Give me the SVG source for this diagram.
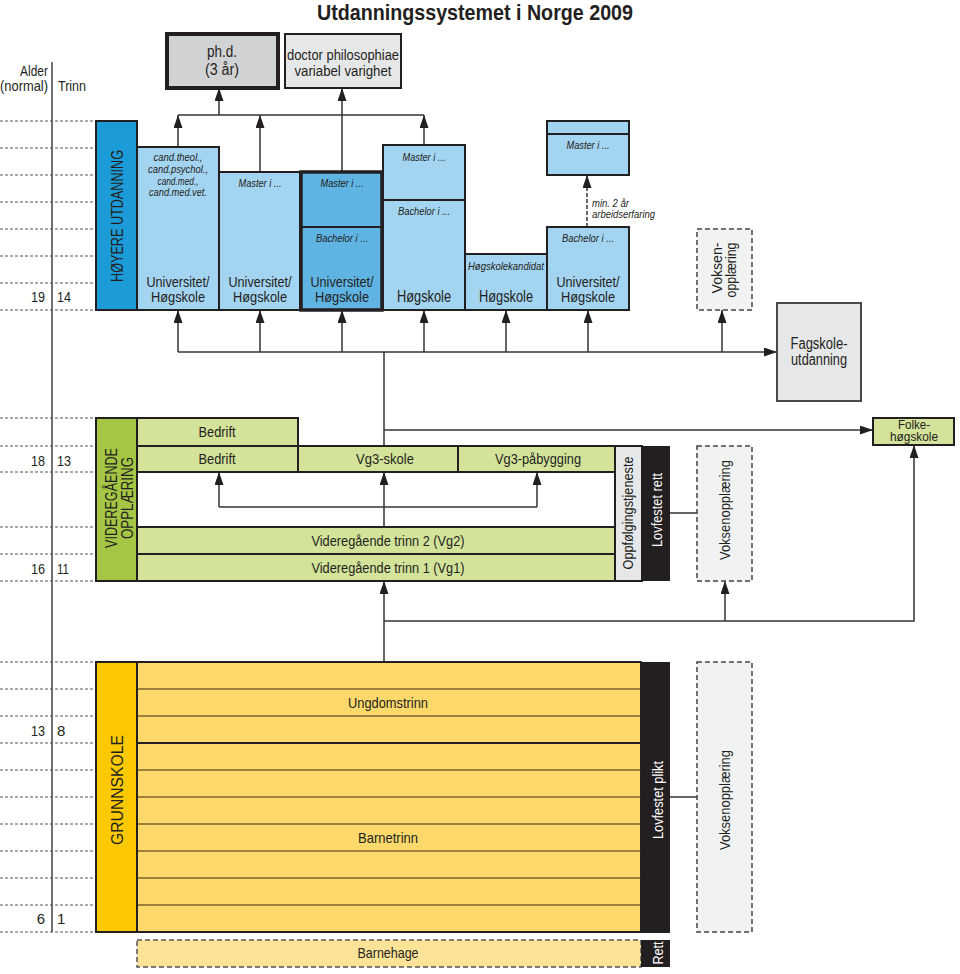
<svg xmlns="http://www.w3.org/2000/svg" width="960" height="974" viewBox="0 0 960 974">
<defs>
<style>
text{font-family:"Liberation Sans",Arial,sans-serif;fill:#231f20}
.t16{font-size:16px}
.t15{font-size:15px}
.t14{font-size:14px}
.it{font-size:11px;font-style:italic}
.m{text-anchor:middle}
.e{text-anchor:end}
.w{fill:#ffffff}
.box{stroke:#231f20;stroke-width:2}
.blue{fill:#a3d4f1}
.green{fill:#d3e39a}
.yel{fill:#fdd96b}
.grey{fill:#e6e7e8}
.dash{fill:#f1f2f2;stroke:#444;stroke-width:1.5;stroke-dasharray:5 3}
.dot{stroke:#555;stroke-width:1;stroke-dasharray:3 2}
.row{stroke:#3a2a10;stroke-width:1.2}
.c{fill:none;stroke:#333;stroke-width:1.5}
.a{marker-end:url(#ah)}
</style>
<marker id="ah" markerUnits="userSpaceOnUse" markerWidth="13" markerHeight="9" refX="13" refY="4.5" orient="auto">
<path d="M0,0 L13,4.5 L0,9 z" fill="#231f20"/>
</marker>
</defs>
<rect width="960" height="974" fill="#ffffff"/>

<g id="title">
<text x="475" y="20" class="m" style="font-size:22px;font-weight:bold" textLength="316" lengthAdjust="spacingAndGlyphs">Utdanningssystemet i Norge 2009</text>
</g>

<g id="axis">
<line x1="52" y1="62" x2="52" y2="932" stroke="#444" stroke-width="1.5"/>
<text x="48" y="76" class="t15 e" textLength="28" lengthAdjust="spacingAndGlyphs">Alder</text>
<text x="48" y="91" class="t15 e" textLength="48" lengthAdjust="spacingAndGlyphs">(normal)</text>
<text x="58" y="91" class="t15" textLength="28" lengthAdjust="spacingAndGlyphs">Trinn</text>
<g class="dot">
<line x1="0" y1="121" x2="96" y2="121"/><line x1="0" y1="148" x2="96" y2="148"/><line x1="0" y1="175" x2="96" y2="175"/><line x1="0" y1="202" x2="96" y2="202"/><line x1="0" y1="229" x2="96" y2="229"/><line x1="0" y1="256" x2="96" y2="256"/><line x1="0" y1="283" x2="96" y2="283"/><line x1="0" y1="310" x2="96" y2="310"/>
<line x1="0" y1="418" x2="96" y2="418"/><line x1="0" y1="446" x2="96" y2="446"/><line x1="0" y1="472" x2="96" y2="472"/><line x1="0" y1="527" x2="96" y2="527"/><line x1="0" y1="554" x2="96" y2="554"/><line x1="0" y1="581" x2="96" y2="581"/>
<line x1="0" y1="662" x2="96" y2="662"/><line x1="0" y1="689" x2="96" y2="689"/><line x1="0" y1="716" x2="96" y2="716"/><line x1="0" y1="743" x2="96" y2="743"/><line x1="0" y1="770" x2="96" y2="770"/><line x1="0" y1="797" x2="96" y2="797"/><line x1="0" y1="824" x2="96" y2="824"/><line x1="0" y1="851" x2="96" y2="851"/><line x1="0" y1="878" x2="96" y2="878"/><line x1="0" y1="905" x2="96" y2="905"/><line x1="0" y1="932" x2="96" y2="932"/>
</g>
<text x="45" y="302" class="t15 e" textLength="14" lengthAdjust="spacingAndGlyphs">19</text><text x="57" y="302" class="t15" textLength="14" lengthAdjust="spacingAndGlyphs">14</text>
<text x="45" y="466" class="t15 e" textLength="14" lengthAdjust="spacingAndGlyphs">18</text><text x="57" y="466" class="t15" textLength="14" lengthAdjust="spacingAndGlyphs">13</text>
<text x="45" y="574" class="t15 e" textLength="14" lengthAdjust="spacingAndGlyphs">16</text><text x="57" y="574" class="t15" textLength="12" lengthAdjust="spacingAndGlyphs">11</text>
<text x="45" y="736" class="t15 e" textLength="14" lengthAdjust="spacingAndGlyphs">13</text><text x="57" y="736" class="t15">8</text>
<text x="45" y="924" class="t15 e">6</text><text x="57" y="924" class="t15">1</text>
</g>

<g id="connectors">
<path class="c" d="M178,115 H424"/>
<path class="c a" d="M178,147 V115"/>
<path class="c a" d="M260,172 V115"/>
<path class="c a" d="M424,145 V115"/>
<path class="c a" d="M219,115 V88"/>
<path class="c a" d="M342,172 V88"/>
<path class="c a" d="M587,227 V175" style="stroke-dasharray:4 2"/>
<path class="c a" d="M178,352 H777"/>
<path class="c a" d="M178,352 V310"/>
<path class="c a" d="M260,352 V310"/>
<path class="c a" d="M342,352 V310"/>
<path class="c a" d="M424,352 V310"/>
<path class="c a" d="M506,352 V310"/>
<path class="c a" d="M588,352 V310"/>
<path class="c a" d="M722,352 V310"/>
<path class="c" d="M384,352 V446"/>
<path class="c a" d="M384,430 H873"/>
<path class="c a" d="M384,527 V472"/>
<path class="c" d="M219,507 H537"/>
<path class="c a" d="M219,507 V472"/>
<path class="c a" d="M537,507 V472"/>
<path class="c a" d="M384,662 V581"/>
<path class="c a" d="M384,621 H914 V445"/>
<path class="c a" d="M725,621 V581"/>
<path class="c" d="M670,513 H697"/>
<path class="c" d="M670,797 H697"/>
</g>

<g id="phd">
<rect x="167" y="34" width="111" height="54" fill="#d1d2d3" stroke="#231f20" stroke-width="4"/>
<text x="222" y="57" class="t16 m" textLength="30" lengthAdjust="spacingAndGlyphs">ph.d.</text>
<text x="222" y="75" class="t16 m" textLength="34" lengthAdjust="spacingAndGlyphs">(3 år)</text>
</g>
<g id="dr-philos">
<rect x="285" y="34" width="116" height="54" class="box grey"/>
<text x="343" y="60" class="t14 m" textLength="112" lengthAdjust="spacingAndGlyphs">doctor philosophiae</text>
<text x="343" y="76" class="t14 m" textLength="97" lengthAdjust="spacingAndGlyphs">variabel varighet</text>
</g>

<g id="hoyere">
<rect x="96" y="121" width="41" height="189" fill="#1b9bd7" class="box"/>
<text transform="translate(123,216) rotate(-90)" class="t16 m" textLength="132" lengthAdjust="spacingAndGlyphs">HØYERE UTDANNING</text>
</g>
<g id="col1">
<rect x="137" y="147" width="82" height="163" class="box blue"/>
<text x="178" y="161" class="it m" textLength="49" lengthAdjust="spacingAndGlyphs">cand.theol.,</text>
<text x="178" y="173" class="it m" textLength="60" lengthAdjust="spacingAndGlyphs">cand.psychol.,</text>
<text x="178" y="185" class="it m" textLength="41" lengthAdjust="spacingAndGlyphs">cand.med.,</text>
<text x="178" y="196" class="it m" textLength="58" lengthAdjust="spacingAndGlyphs">cand.med.vet.</text>
<text x="178" y="287" class="t15 m" textLength="63" lengthAdjust="spacingAndGlyphs">Universitet/</text>
<text x="178" y="302" class="t15 m" textLength="54" lengthAdjust="spacingAndGlyphs">Høgskole</text>
</g>
<g id="col2">
<rect x="219" y="172" width="81" height="138" class="box blue"/>
<text x="260" y="187" class="it m" textLength="43" lengthAdjust="spacingAndGlyphs">Master i ...</text>
<text x="260" y="287" class="t15 m" textLength="63" lengthAdjust="spacingAndGlyphs">Universitet/</text>
<text x="260" y="302" class="t15 m" textLength="54" lengthAdjust="spacingAndGlyphs">Høgskole</text>
</g>
<g id="col3">
<rect x="301" y="172" width="81" height="138" fill="#5fb4e4" stroke="#231f20" stroke-width="3.5"/>
<line x1="301" y1="227" x2="382" y2="227" stroke="#231f20" stroke-width="2"/>
<text x="342" y="187" class="it m" textLength="43" lengthAdjust="spacingAndGlyphs">Master i ...</text>
<text x="342" y="242" class="it m" textLength="52" lengthAdjust="spacingAndGlyphs">Bachelor i ...</text>
<text x="342" y="287" class="t15 m" textLength="63" lengthAdjust="spacingAndGlyphs">Universitet/</text>
<text x="342" y="302" class="t15 m" textLength="54" lengthAdjust="spacingAndGlyphs">Høgskole</text>
</g>
<g id="col4">
<rect x="383" y="145" width="82" height="165" class="box blue"/>
<line x1="383" y1="200" x2="465" y2="200" stroke="#231f20" stroke-width="2"/>
<text x="424" y="161" class="it m" textLength="43" lengthAdjust="spacingAndGlyphs">Master i ...</text>
<text x="424" y="215" class="it m" textLength="52" lengthAdjust="spacingAndGlyphs">Bachelor i ...</text>
<text x="424" y="302" class="t16 m" textLength="54" lengthAdjust="spacingAndGlyphs">Høgskole</text>
</g>
<g id="col5">
<rect x="465" y="254" width="82" height="56" class="box blue"/>
<text x="506" y="270" class="it m" textLength="76" lengthAdjust="spacingAndGlyphs">Høgskolekandidat</text>
<text x="506" y="302" class="t16 m" textLength="54" lengthAdjust="spacingAndGlyphs">Høgskole</text>
</g>
<g id="col6">
<rect x="547" y="227" width="82" height="83" class="box blue"/>
<text x="588" y="242" class="it m" textLength="52" lengthAdjust="spacingAndGlyphs">Bachelor i ...</text>
<text x="588" y="287" class="t15 m" textLength="63" lengthAdjust="spacingAndGlyphs">Universitet/</text>
<text x="588" y="302" class="t15 m" textLength="54" lengthAdjust="spacingAndGlyphs">Høgskole</text>
</g>
<g id="master-erfaring">
<rect x="547" y="121" width="82" height="54" class="box blue"/>
<line x1="547" y1="134" x2="629" y2="134" stroke="#231f20" stroke-width="2"/>
<text x="588" y="149" class="it m" textLength="43" lengthAdjust="spacingAndGlyphs">Master i ...</text>
<text x="592" y="207" class="it" textLength="37" lengthAdjust="spacingAndGlyphs">min. 2 år</text>
<text x="592" y="218" class="it" textLength="63" lengthAdjust="spacingAndGlyphs">arbeidserfaring</text>
</g>
<g id="voksen-hoyere">
<rect x="697" y="229" width="55" height="81" class="dash"/>
<text transform="translate(722,268) rotate(-90)" class="t15 m" textLength="51" lengthAdjust="spacingAndGlyphs">Voksen-</text>
<text transform="translate(736,270) rotate(-90)" class="t15 m" textLength="55" lengthAdjust="spacingAndGlyphs">opplæring</text>
</g>
<g id="fagskole">
<rect x="777" y="303" width="84" height="98" fill="#e6e7e8" stroke="#4a4a4a" stroke-width="2"/>
<text x="819" y="349" class="t16 m" textLength="57" lengthAdjust="spacingAndGlyphs">Fagskole-</text>
<text x="819" y="365" class="t16 m" textLength="56" lengthAdjust="spacingAndGlyphs">utdanning</text>
</g>

<g id="vgo">
<rect x="96" y="418" width="41" height="163" fill="#a4c644" class="box"/>
<text transform="translate(117,498) rotate(-90)" class="t16 m" textLength="100" lengthAdjust="spacingAndGlyphs">VIDEREGÅENDE</text>
<text transform="translate(133,498) rotate(-90)" class="t16 m" textLength="82" lengthAdjust="spacingAndGlyphs">OPPLÆRING</text>
</g>
<g id="bedrift1">
<rect x="137" y="418" width="161" height="28" class="box green"/>
<text x="217" y="437" class="t15 m" textLength="37" lengthAdjust="spacingAndGlyphs">Bedrift</text>
</g>
<g id="bedrift2">
<rect x="137" y="446" width="161" height="26" class="box green"/>
<text x="217" y="464" class="t15 m" textLength="37" lengthAdjust="spacingAndGlyphs">Bedrift</text>
</g>
<g id="vg3-skole">
<rect x="298" y="446" width="160" height="26" class="box green"/>
<text x="385" y="464" class="t15 m" textLength="58" lengthAdjust="spacingAndGlyphs">Vg3-skole</text>
</g>
<g id="vg3-pabygging">
<rect x="458" y="446" width="157" height="26" class="box green"/>
<text x="538" y="464" class="t15 m" textLength="86" lengthAdjust="spacingAndGlyphs">Vg3-påbygging</text>
</g>
<g id="vg2">
<rect x="137" y="527" width="478" height="27" class="box green"/>
<text x="388" y="546" class="t15 m" textLength="153" lengthAdjust="spacingAndGlyphs">Videregående trinn 2 (Vg2)</text>
</g>
<g id="vg1">
<rect x="137" y="554" width="478" height="27" class="box green"/>
<text x="388" y="573" class="t15 m" textLength="153" lengthAdjust="spacingAndGlyphs">Videregående trinn 1 (Vg1)</text>
</g>
<g id="oppfolging">
<rect x="615" y="446" width="27" height="135" class="box grey"/>
<text transform="translate(633,513) rotate(-90)" class="t15 m" textLength="113" lengthAdjust="spacingAndGlyphs">Oppfølgingstjeneste</text>
</g>
<g id="lovfestet-rett">
<rect x="642" y="446" width="28" height="135" fill="#231f20"/>
<text transform="translate(662,510) rotate(-90)" class="t15 m w" textLength="74" lengthAdjust="spacingAndGlyphs">Lovfestet rett</text>
</g>
<g id="voksen-vgo">
<rect x="697" y="446" width="55" height="135" class="dash"/>
<text transform="translate(730,510) rotate(-90)" class="t15 m" textLength="100" lengthAdjust="spacingAndGlyphs">Voksenopplæring</text>
</g>
<g id="folkehogskole">
<rect x="873" y="418" width="81" height="27" fill="#d3e39a" class="box"/>
<text x="914" y="429" class="m" style="font-size:12px" textLength="32" lengthAdjust="spacingAndGlyphs">Folke-</text>
<text x="914" y="440.5" class="m" style="font-size:12px" textLength="48" lengthAdjust="spacingAndGlyphs">høgskole</text>
</g>

<g id="grunnskole">
<rect x="96" y="662" width="41" height="270" fill="#fcc800" class="box"/>
<text transform="translate(123,790) rotate(-90)" class="t16 m" textLength="110" lengthAdjust="spacingAndGlyphs">GRUNNSKOLE</text>
</g>
<g id="grunnskole-trinn">
<rect x="137" y="662" width="504" height="270" class="box yel"/>
<g class="row">
<line x1="137" y1="689" x2="641" y2="689"/><line x1="137" y1="716" x2="641" y2="716"/><line x1="137" y1="770" x2="641" y2="770"/><line x1="137" y1="797" x2="641" y2="797"/><line x1="137" y1="824" x2="641" y2="824"/><line x1="137" y1="851" x2="641" y2="851"/><line x1="137" y1="878" x2="641" y2="878"/><line x1="137" y1="905" x2="641" y2="905"/>
</g>
<line x1="137" y1="743" x2="641" y2="743" stroke="#231f20" stroke-width="2"/>
<text x="388" y="708" class="t15 m" textLength="80" lengthAdjust="spacingAndGlyphs">Ungdomstrinn</text>
<text x="388" y="843" class="t15 m" textLength="60" lengthAdjust="spacingAndGlyphs">Barnetrinn</text>
</g>
<g id="lovfestet-plikt">
<rect x="641" y="662" width="29" height="271" fill="#231f20"/>
<text transform="translate(663,800) rotate(-90)" class="t15 m w" textLength="78" lengthAdjust="spacingAndGlyphs">Lovfestet plikt</text>
</g>
<g id="voksen-grunn">
<rect x="697" y="662" width="55" height="270" class="dash"/>
<text transform="translate(730,800) rotate(-90)" class="t15 m" textLength="100" lengthAdjust="spacingAndGlyphs">Voksenopplæring</text>
</g>
<g id="barnehage">
<rect x="137" y="940" width="504" height="27" fill="#fde397" stroke="#555" stroke-width="1.5" stroke-dasharray="5 3"/>
<text x="388" y="958" class="t15 m" textLength="61" lengthAdjust="spacingAndGlyphs">Barnehage</text>
</g>
<g id="rett">
<rect x="641" y="940" width="29" height="27" fill="#231f20"/>
<text transform="translate(663,953) rotate(-90)" class="t15 m w" textLength="23" lengthAdjust="spacingAndGlyphs">Rett</text>
</g>
</svg>
